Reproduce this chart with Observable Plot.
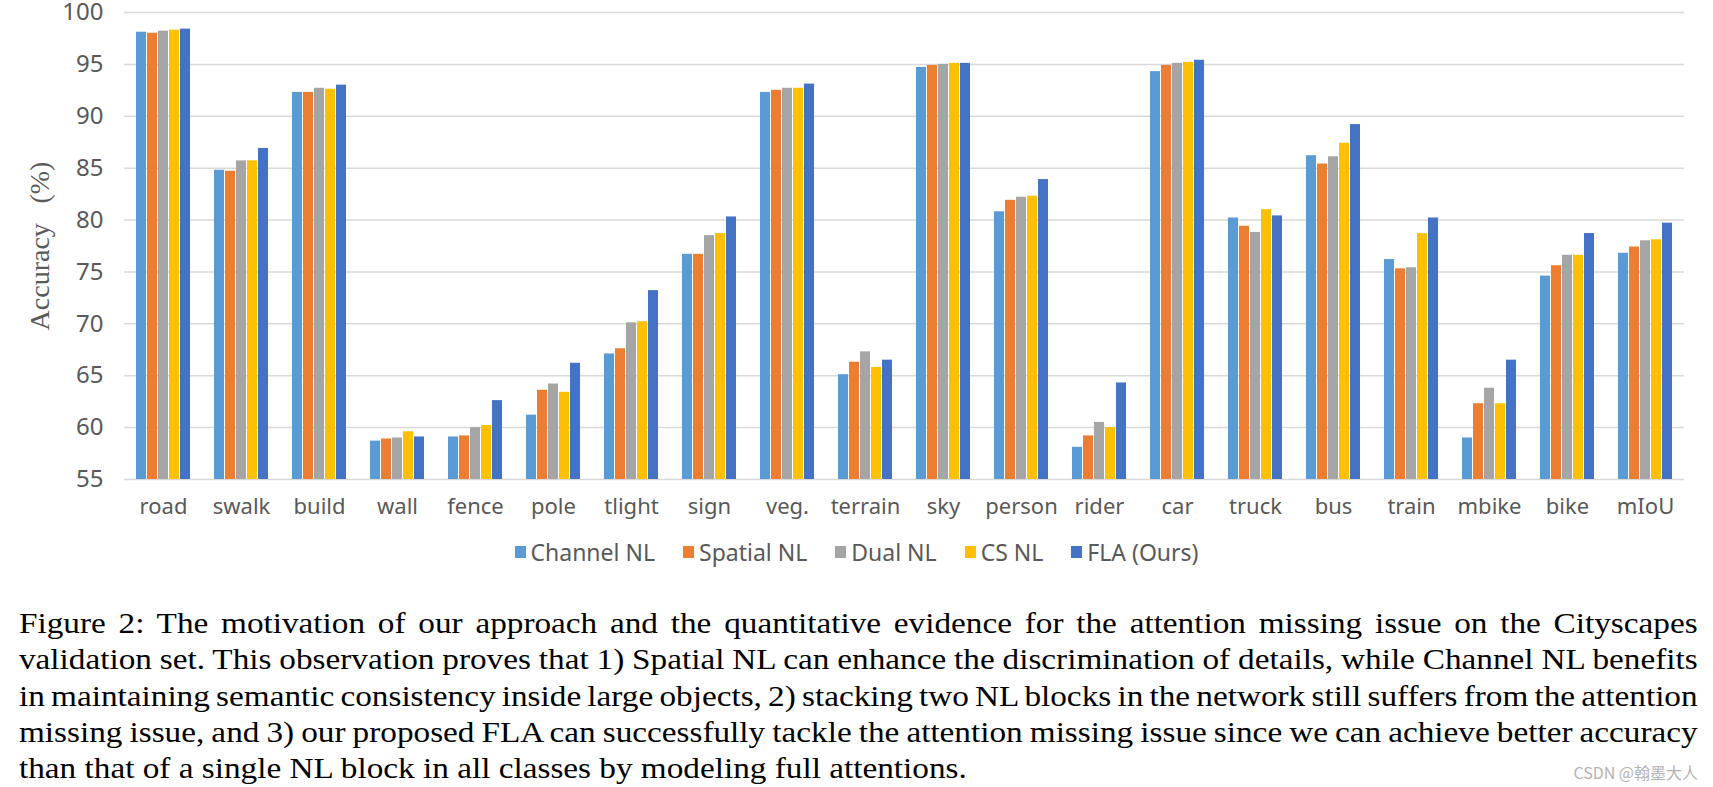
<!DOCTYPE html>
<html>
<head>
<meta charset="utf-8">
<script src="https://cdn.jsdelivr.net/npm/d3@7"></script>
<script src="https://cdn.jsdelivr.net/npm/@observablehq/plot@0.6"></script>
<style>
  html, body { margin: 0; padding: 0; background: #fff; }
  #root { position: relative; width: 1713px; height: 787px; overflow: hidden; }
  #chart { position: absolute; left: 0; top: 0; }
  #legend { position: absolute; left: 0; top: 535px; width: 1713px; }
  .lg-swatches { justify-content: center; margin-left: 0 !important; }
  .lg-swatch { margin-right: 28px !important; }
  .lg-swatch:last-child { margin-right: 0 !important; }
  .lg-swatch > svg { margin-right: 5px !important; }
  g[aria-label="y-axis label"] text { font-family: "Liberation Serif", serif; font-size: 28px; }
  #caption { position: absolute; left: 19px; top: 605px; width: 1515px;
    transform: scaleX(1.108); transform-origin: 0 0;
    font-family: "Liberation Serif", "Times New Roman", serif; font-size: 30px; line-height: 36.25px; color: #000; }
  #caption .ln { white-space: nowrap; text-align: justify; text-align-last: justify; word-spacing: -4px; }
  #caption .ln.last { text-align-last: left; word-spacing: 0; }
  #wm { position: absolute; right: 15px; top: 760px; font-family: "Noto Sans CJK SC", sans-serif; font-size: 16px; color: #b3b3b3; }
</style>
</head>
<body>
<div id="root">
  <div id="chart"></div>
  <div id="legend"></div>
  <div id="caption"></div>
  <div id="wm">CSDN @翰墨大人</div>
</div>
<script>
const categories = ["road","swalk","build","wall","fence","pole","tlight","sign","veg.","terrain","sky","person","rider","car","truck","bus","train","mbike","bike","mIoU"];
const series = ["Channel NL","Spatial NL","Dual NL","CS NL","FLA (Ours)"];
const colors = ["#5B9BD5","#ED7D31","#A5A5A5","#FFC000","#4472C4"];

const channelNL = [98.1, 84.8, 92.3, 58.7, 59.1, 61.2, 67.1, 76.7, 92.3, 65.1, 94.7, 80.8, 58.1, 94.3, 80.2, 86.2, 76.2, 59.0, 74.6, 76.8];
const spatialNL = [98.0, 84.7, 92.3, 58.9, 59.2, 63.6, 67.6, 76.7, 92.5, 66.3, 94.9, 81.9, 59.2, 94.9, 79.4, 85.4, 75.3, 62.3, 75.6, 77.4];
const dualNL    = [98.2, 85.7, 92.7, 59.0, 60.0, 64.2, 70.1, 78.5, 92.7, 67.3, 95.0, 82.2, 60.5, 95.1, 78.8, 86.1, 75.4, 63.8, 76.6, 78.0];
const csNL      = [98.3, 85.7, 92.6, 59.6, 60.2, 63.4, 70.2, 78.7, 92.7, 65.8, 95.1, 82.3, 60.0, 95.2, 81.0, 87.4, 78.7, 62.3, 76.6, 78.1];
const flaOurs   = [98.4, 86.9, 93.0, 59.1, 62.6, 66.2, 73.2, 80.3, 93.1, 66.5, 95.1, 83.9, 64.3, 95.4, 80.4, 89.2, 80.2, 66.5, 78.7, 79.7];

const yTicks = [55, 60, 65, 70, 75, 80, 85, 90, 95, 100];
const yLabel = "Accuracy\u2002\u2009(%)";

const captionLines = [
  "Figure 2: The motivation of our approach and the quantitative evidence for the attention missing issue on the Cityscapes",
  "validation set. This observation proves that 1) Spatial NL can enhance the discrimination of details, while Channel NL benefits",
  "in maintaining semantic consistency inside large objects, 2) stacking two NL blocks in the network still suffers from the attention",
  "missing issue, and 3) our proposed FLA can successfully tackle the attention missing issue since we can achieve better accuracy",
  "than that of a single NL block in all classes by modeling full attentions."
];

const allSeries = [channelNL, spatialNL, dualNL, csNL, flaOurs];
const data = [];
categories.forEach((c, i) => {
  series.forEach((s, j) => data.push({category: c, series: s, value: allSeries[j][i]}));
});
const baseline = yTicks[0];

const chart = Plot.plot({
  width: 1713,
  height: 530,
  marginLeft: 120,
  marginRight: 26,
  marginTop: 12,
  marginBottom: 51,
  style: {fontFamily: "'Noto Sans', sans-serif", color: "#595959", background: "#fff", overflow: "visible"},
  fx: {domain: categories, paddingInner: 0, paddingOuter: 0},
  x: {domain: series, paddingInner: 0.13, paddingOuter: 0.9, axis: null},
  y: {domain: [55, 100]},
  color: {domain: series, range: colors},
  marks: [
    Plot.gridY(yTicks, {stroke: "#d9d9d9", strokeOpacity: 1, strokeWidth: 1.5}),
    Plot.barY(data, {fx: "category", x: "series", y1: baseline, y2: "value", fill: "series"}),
    Plot.axisY({ticks: yTicks, tickSize: 0, tickPadding: 21, fontSize: 24, label: yLabel, labelAnchor: "center", labelOffset: 95, labelArrow: "none"}),
    Plot.axisFx({anchor: "bottom", tickSize: 0, tickPadding: 19, fontSize: 22, label: null})
  ]
});
document.getElementById("chart").appendChild(chart);

const legend = Plot.legend({
  color: {domain: series, range: colors},
  className: "lg",
  swatchWidth: 11,
  swatchHeight: 12,
  style: {fontFamily: "'Noto Sans', sans-serif", fontSize: "23px", color: "#595959"}
});
document.getElementById("legend").appendChild(legend);

const cap = document.getElementById("caption");
captionLines.forEach((t, i) => {
  const d = document.createElement("div");
  d.className = "ln" + (i === captionLines.length - 1 ? " last" : "");
  d.textContent = t;
  cap.appendChild(d);
});
</script>
</body>
</html>
